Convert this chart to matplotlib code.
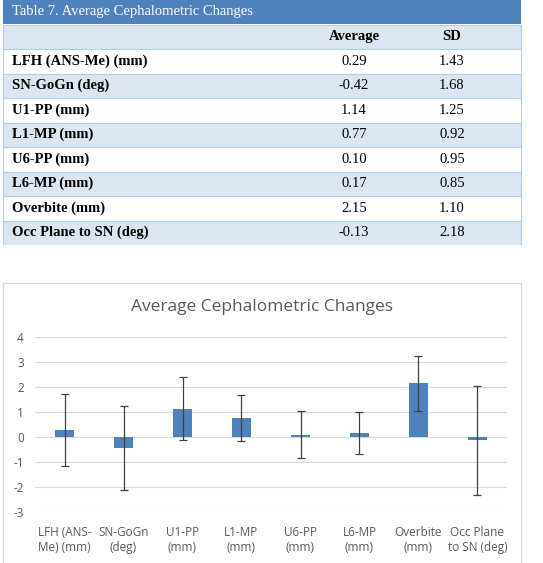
import numpy as np
import matplotlib.pyplot as plt
from matplotlib.patches import Rectangle

plt.rcParams['axes.unicode_minus'] = False

# data
row_labels = ["LFH (ANS-Me) (mm)", "SN-GoGn (deg)", "U1-PP (mm)", "L1-MP (mm)",
              "U6-PP (mm)", "L6-MP (mm)", "Overbite (mm)", "Occ Plane to SN (deg)"]
averages = [0.29, -0.42, 1.14, 0.77, 0.10, 0.17, 2.15, -0.13]
sds = [1.43, 1.68, 1.25, 0.92, 0.95, 0.85, 1.10, 2.18]
tick_labels = ["LFH (ANS-\nMe) (mm)", "SN-GoGn\n(deg)", "U1-PP\n(mm)", "L1-MP\n(mm)",
               "U6-PP\n(mm)", "L6-MP\n(mm)", "Overbite\n(mm)", "Occ Plane\nto SN (deg)"]

W, H = 543, 563
fig = plt.figure(figsize=(W / 100, H / 100), dpi=100)

# --- table (pixel coordinates) ---
tb = 245
tax = fig.add_axes([0, 1 - tb / H, 1, tb / H])
tax.set_xlim(0, W)
tax.set_ylim(tb, 0)
tax.axis('off')

blue = '#4F81BD'
light = '#DCE6F2'
x0, x1 = 3, 521
rh = tb / 10.0
serif = 'Liberation Serif'

tax.add_patch(Rectangle((x0, 0), x1 - x0, rh - 1, color=blue, lw=0))
tax.text(x0 + 9, rh / 2 - 1, "Table 7. Average Cephalometric Changes", color='white',
         family=serif, fontsize=10.5, va='center', ha='left')
tax.add_patch(Rectangle((x0, rh), x1 - x0, rh, facecolor=light, edgecolor='#B8CCE4', lw=0.8))
tax.text(354, rh * 1.5, "Average", family=serif, weight='bold', fontsize=10.5, va='center', ha='center')
tax.text(452, rh * 1.5, "SD", family=serif, weight='bold', fontsize=10.5, va='center', ha='center')
for i, (lab, a, s) in enumerate(zip(row_labels, averages, sds)):
    y = rh * (i + 2)
    fc = 'white' if i % 2 == 0 else light
    tax.add_patch(Rectangle((x0, y), x1 - x0, rh, facecolor=fc, edgecolor='#B8CCE4', lw=0.8))
    tax.text(x0 + 9, y + rh / 2, lab, family=serif, weight='bold', fontsize=10.5, va='center', ha='left')
    tax.text(354, y + rh / 2, "{:.2f}".format(a), family=serif, fontsize=10.5, va='center', ha='center')
    tax.text(452, y + rh / 2, "{:.2f}".format(s), family=serif, fontsize=10.5, va='center', ha='center')

# --- chart frame ---
fig.patches.append(Rectangle((3 / W, 0), 518 / W, 1 - 283 / H, transform=fig.transFigure,
                             facecolor='none', edgecolor='#D9D9D9', lw=0.8, zorder=-1))
fig.text(262 / W, 1 - 307 / H, "Average Cephalometric Changes", ha='center', va='center',
         family='Open Sans', fontsize=12.5, color='#595959')

ax = fig.add_axes([35 / W, (H - 512) / H, 472 / W, 175 / H])
x = np.arange(len(averages))
ax.bar(x, averages, width=0.31, color='#4F81BD', zorder=2)
ax.errorbar(x, averages, yerr=sds, fmt='none', ecolor='#404040', elinewidth=0.9,
            capsize=3, capthick=0.9, zorder=3)
ax.set_xlim(-0.5, len(averages) - 0.5)
ax.set_ylim(-3, 4)
ax.set_yticks(range(-3, 5))
ax.set_xticks(x)
ax.set_xticklabels(tick_labels, family='Open Sans', fontsize=8.5, color='#595959')
for t in ax.get_yticklabels():
    t.set_family('Open Sans')
    t.set_fontsize(8.5)
    t.set_color('#595959')
ax.tick_params(length=0, pad=8)
ax.tick_params(axis='x', pad=10)
ax.grid(axis='y', color='#D9D9D9', lw=0.8, zorder=0)
for s in ax.spines.values():
    s.set_visible(False)
ax.set_facecolor('none')

fig.savefig('out.png', dpi=100)
